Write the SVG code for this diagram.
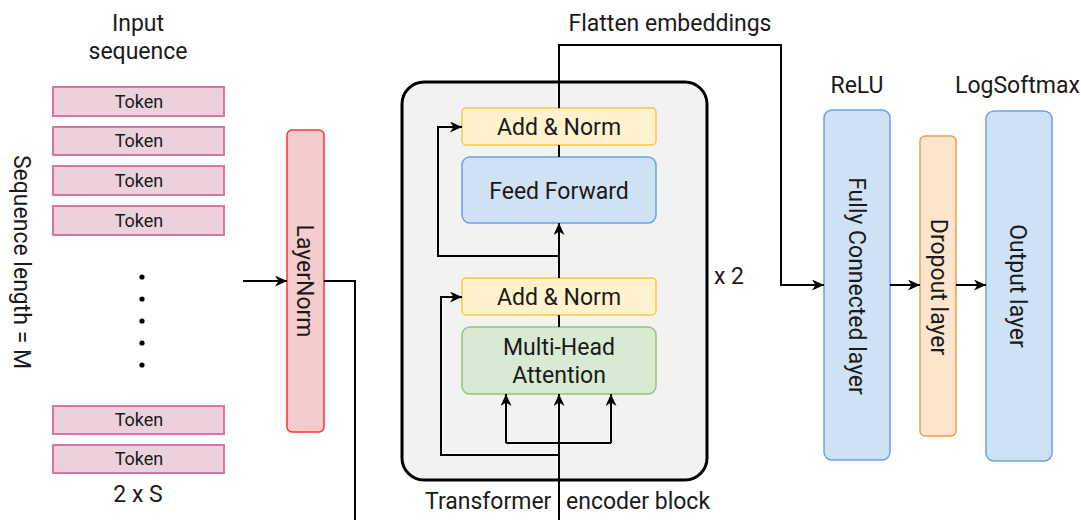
<svg xmlns="http://www.w3.org/2000/svg" width="1081" height="520" viewBox="0 0 1081 520">
<style>
text{font-family:Roboto,"Liberation Sans",sans-serif;font-size:23px;fill:#1a1a1a}
.tok rect{fill:#ead1dc;stroke:#d5789f;stroke-width:2}
.tok text{font-size:18px;text-anchor:middle}
.c{text-anchor:middle}
.ln{fill:none;stroke:#000;stroke-width:2}
.arr{marker-end:url(#ah)}
.yel{fill:#fff2cc;stroke:#f9c740;stroke-width:1.5}
.blu{fill:#cfe2f3;stroke:#6d9eeb;stroke-width:1.5}
</style>
<defs>
<marker id="ah" markerUnits="userSpaceOnUse" markerWidth="13" markerHeight="12" refX="12" refY="5.5" orient="auto">
<path d="M0,0 L12,5.5 L0,11 L3.5,5.5 z" fill="#000"/>
</marker>
</defs>
<rect width="1081" height="520" fill="#fff"/>

<text class="c" x="138" y="31">Input</text>
<text class="c" x="138" y="59">sequence</text>
<text class="c" transform="translate(14,262) rotate(90)">Sequence length = M</text>

<g id="token1" class="tok"><rect x="53" y="87" width="171" height="29"/><text x="139" y="108">Token</text></g>
<g id="token2" class="tok"><rect x="53" y="127" width="171" height="28"/><text x="139" y="147">Token</text></g>
<g id="token3" class="tok"><rect x="53" y="166" width="171" height="29"/><text x="139" y="187">Token</text></g>
<g id="token4" class="tok"><rect x="53" y="206" width="171" height="29"/><text x="139" y="227">Token</text></g>
<g id="dots" fill="#000">
<circle cx="142" cy="277" r="2.6"/><circle cx="142" cy="299" r="2.6"/><circle cx="142" cy="321" r="2.6"/><circle cx="142" cy="343" r="2.6"/><circle cx="142" cy="365" r="2.6"/>
</g>
<g id="token5" class="tok"><rect x="53" y="406" width="171" height="28"/><text x="139" y="426">Token</text></g>
<g id="token6" class="tok"><rect x="53" y="445" width="171" height="28"/><text x="139" y="465">Token</text></g>
<text class="c" x="138" y="502" font-size="22">2 x S</text>

<g id="layernorm">
<rect x="287" y="130" width="37" height="302" rx="5" fill="#f4cccc" stroke="#ff3333" stroke-width="1.5"/>
<text class="c" transform="translate(297,281) rotate(90)">LayerNorm</text>
</g>

<g id="transformer-block">
<rect x="402" y="82" width="305" height="398" rx="22" fill="#f2f2f2" stroke="#000" stroke-width="3"/>
</g>

<g id="addnorm-top">
<rect class="yel" x="462" y="108" width="194" height="37" rx="4"/>
<text class="c" x="559" y="135">Add &amp; Norm</text>
</g>
<g id="feedforward">
<rect class="blu" x="462" y="157" width="194" height="66" rx="8"/>
<text class="c" x="559" y="199">Feed Forward</text>
</g>
<g id="addnorm-bottom">
<rect class="yel" x="462" y="278" width="194" height="37" rx="4"/>
<text class="c" x="559" y="305">Add &amp; Norm</text>
</g>
<g id="mha">
<rect x="462" y="327" width="194" height="67" rx="8" fill="#d9ead3" stroke="#93c47d" stroke-width="1.5"/>
<text class="c" x="559" y="355">Multi-Head</text>
<text class="c" x="559" y="383">Attention</text>
</g>

<text x="714" y="284" font-size="22">x 2</text>
<text class="c" x="670" y="31">Flatten embeddings</text>
<text y="509"><tspan x="425">Transformer</tspan><tspan x="566">encoder block</tspan></text>

<text class="c" x="857" y="93">ReLU</text>
<text x="955" y="93">LogSoftmax</text>

<g id="fc">
<rect class="blu" x="824" y="110" width="66" height="350" rx="8"/>
<text class="c" transform="translate(849,286) rotate(90)">Fully Connected layer</text>
</g>
<g id="dropout">
<rect x="920" y="136" width="36" height="300" rx="5" fill="#fce5cd" stroke="#f0a050" stroke-width="1.5"/>
<text class="c" transform="translate(931,287) rotate(90)">Dropout layer</text>
</g>
<g id="output">
<rect class="blu" x="986" y="111" width="66" height="350" rx="8"/>
<text class="c" transform="translate(1010,286) rotate(90)">Output layer</text>
</g>

<g id="connectors">
<path class="ln arr" d="M243,281 H287"/>
<path class="ln" d="M324,281 H355 V522"/>
<path class="ln arr" d="M559,522 V394"/>
<path class="ln" d="M506,443 H611"/>
<path class="ln arr" d="M506,443 V394"/>
<path class="ln arr" d="M611,443 V394"/>
<path class="ln arr" d="M559,455 H441 V297 H462"/>
<path class="ln" d="M559,315 V327"/>
<path class="ln arr" d="M559,278 V223"/>
<path class="ln arr" d="M559,256 H438 V127 H462"/>
<path class="ln" d="M559,157 V145"/>
<path class="ln arr" d="M559,108 V45 H781 V285 H824"/>
<path class="ln arr" d="M890,285 H920"/>
<path class="ln arr" d="M956,285 H986"/>
</g>
</svg>
